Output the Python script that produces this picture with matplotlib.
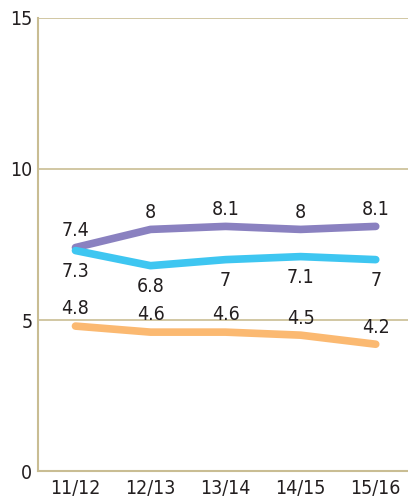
import matplotlib
matplotlib.use("Agg")
import matplotlib.pyplot as plt

seasons = ["11/12", "12/13", "13/14", "14/15", "15/16"]
purple_vals = [7.4, 8.0, 8.1, 8.0, 8.1]
blue_vals = [7.3, 6.8, 7.0, 7.1, 7.0]
orange_vals = [4.8, 4.6, 4.6, 4.5, 4.2]
y_ticks = [0, 5, 10, 15]

plt.rcParams['font.family'] = ['DejaVu Sans']
plt.rcParams['font.stretch'] = 'condensed'

grid_col = "#c9bd93"
fig = plt.figure(figsize=(4.08, 4.98), dpi=100)
ax = fig.add_axes([0.093, 0.054, 0.907, 0.91])

x = list(range(len(seasons)))
series = [
    (purple_vals, "#8a81c0", 5.5),
    (blue_vals, "#3ec6f1", -8),
    (orange_vals, "#fbb971", 5.5),
]
for vals, col, off in series:
    ax.plot(x, vals, color=col, lw=5.5, solid_capstyle="round", solid_joinstyle="round", zorder=3)
    for xi, v in zip(x, vals):
        lab = f"{v:g}"
        ax.annotate(lab, (xi, v), xytext=(0, off), textcoords="offset points",
                    ha="center", va="bottom" if off > 0 else "top",
                    fontsize=14, color="#231f20")

ax.set_xlim(-0.5, 4.43)
ax.set_ylim(0, 15)
ax.set_yticks(y_ticks)
ax.set_xticks(x)
ax.set_xticklabels(seasons)
ax.tick_params(length=0, labelsize=14, colors="#231f20")
ax.tick_params(axis="y", pad=4)
ax.tick_params(axis="x", pad=6)
for y in y_ticks[1:]:
    ax.axhline(y, color=grid_col, lw=1.2, zorder=1)
for s in ["top", "right"]:
    ax.spines[s].set_visible(False)
for s in ["left", "bottom"]:
    ax.spines[s].set_color(grid_col)
    ax.spines[s].set_linewidth(1.5)

fig.savefig("out.png", dpi=100)
